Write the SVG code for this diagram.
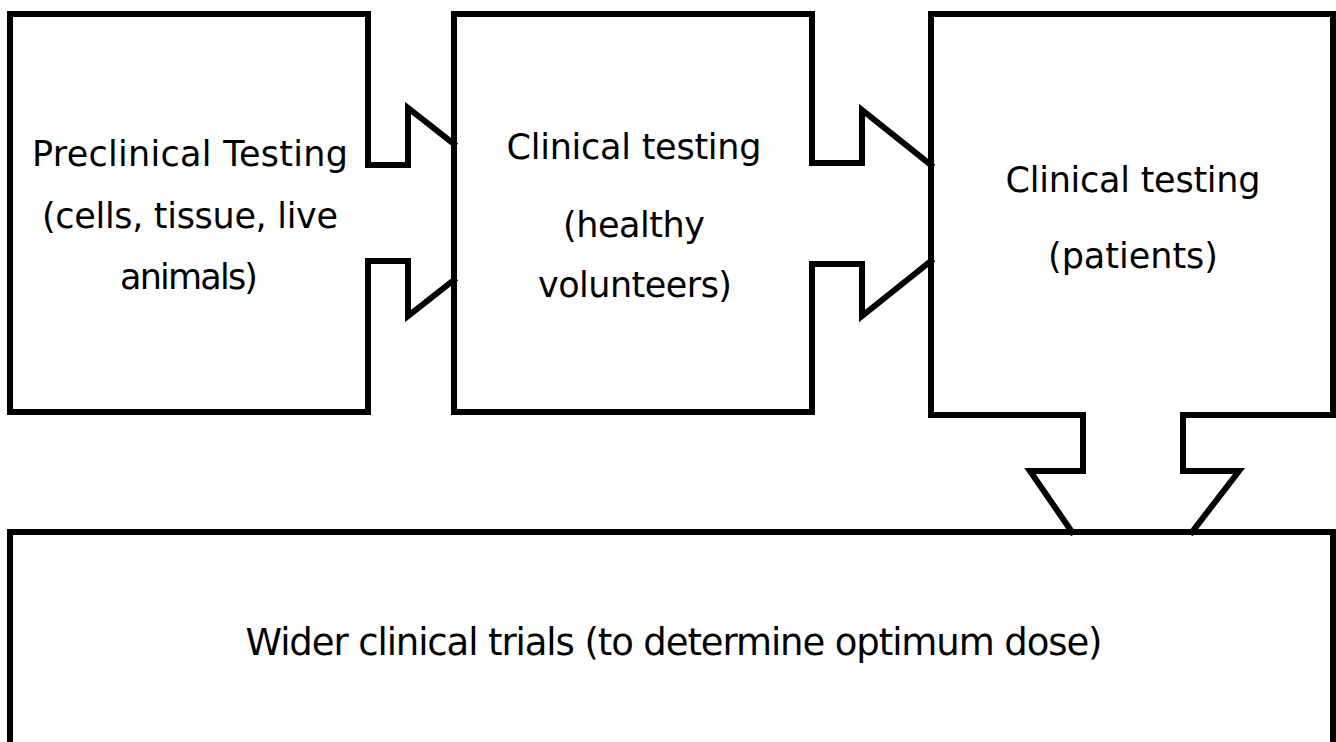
<svg xmlns="http://www.w3.org/2000/svg" width="1336" height="742" viewBox="0 0 1336 742">
  <style>
    .bg { fill: #ffffff; stroke: none; }
    .edge { fill: none; stroke: #000000; stroke-width: 6; stroke-linecap: square; stroke-linejoin: miter; }
    .lbl { font-family: "DejaVu Sans", "Liberation Sans", sans-serif; font-size: 35px; fill: #000000; text-anchor: middle; }
    .big { font-size: 37px; }
  </style>
  <rect x="0" y="0" width="1336" height="742" fill="#ffffff"/>

  <g id="node-preclinical">
    <rect class="bg" x="10" y="14" width="358" height="398"/>
    <path class="edge" d="M368,165 V14 H10 V412 H368 V261"/>
    <text class="lbl" x="190" y="166" textLength="316" lengthAdjust="spacing">Preclinical Testing</text>
    <text class="lbl" x="190" y="228" textLength="296" lengthAdjust="spacing">(cells, tissue, live</text>
    <text class="lbl" x="189" y="289" textLength="138" lengthAdjust="spacing">animals)</text>
  </g>

  <g id="node-healthy">
    <rect class="bg" x="454" y="14" width="358" height="398"/>
    <path class="edge" d="M812,163 V14 H454 V412 H812 V264"/>
    <text class="lbl" x="634" y="159" textLength="255" lengthAdjust="spacing">Clinical testing</text>
    <text class="lbl" x="634" y="237" textLength="142" lengthAdjust="spacing">(healthy</text>
    <text class="lbl" x="635" y="297" textLength="194" lengthAdjust="spacing">volunteers)</text>
  </g>

  <g id="node-patients">
    <rect class="bg" x="931" y="14" width="402" height="401"/>
    <path class="edge" d="M1083,415 H931 V14 H1333 V415 H1183"/>
    <text class="lbl" x="1133" y="192" textLength="255" lengthAdjust="spacing">Clinical testing</text>
    <text class="lbl" x="1133" y="268" textLength="170" lengthAdjust="spacing">(patients)</text>
  </g>

  <g id="node-wider">
    <rect class="bg" x="10" y="532" width="1323" height="300"/>
    <rect class="edge" x="10" y="532" width="1323" height="300"/>
    <text class="lbl big" x="674" y="655" textLength="857" lengthAdjust="spacing">Wider clinical trials (to determine optimum dose)</text>
  </g>

  <g id="connectors">
    <path class="edge" d="M368,165 H408 V108 L454,144"/>
    <path class="edge" d="M454,280 L408,316 V261 H368"/>
    <path class="edge" d="M812,163 H862 V110 L931,165"/>
    <path class="edge" d="M931,261 L862,316 V264 H812"/>
    <path class="edge" d="M1083,415 V471 H1030 L1072,532"/>
    <path class="edge" d="M1192,532 L1239,471 H1183 V415"/>
  </g>
</svg>
